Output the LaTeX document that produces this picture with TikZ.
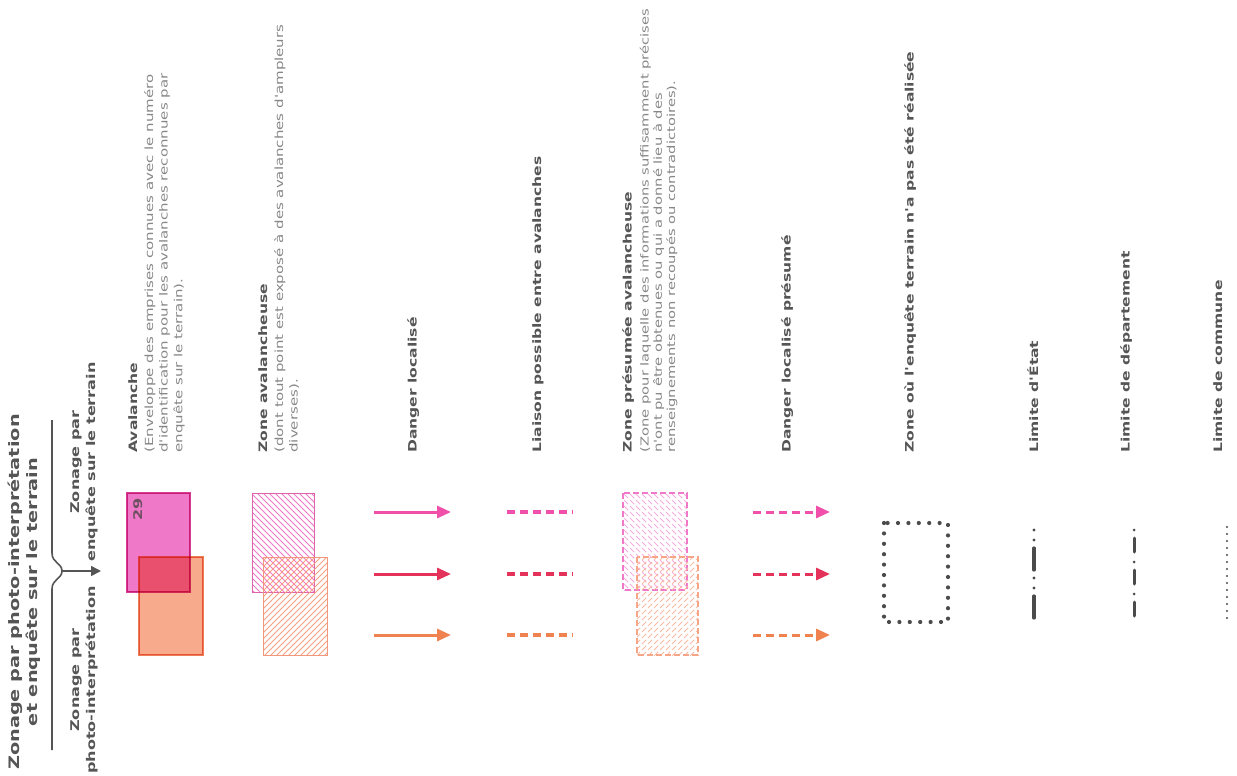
\documentclass[tikz,border=0pt]{standalone}
\usepackage{fontspec}
\newfontfamily\legfont[FakeStretch=1.34]{DejaVu Sans}
\usetikzlibrary{arrows.meta,patterns,calc}

\definecolor{headgray}{RGB}{85,85,85}
\definecolor{descgray}{RGB}{135,135,135}
\definecolor{avmag}{RGB}{240,120,200}
\definecolor{avmagline}{RGB}{215,60,150}
\definecolor{avor}{RGB}{248,170,140}
\definecolor{avorline}{RGB}{238,125,90}
\definecolor{dgpink}{RGB}{240,80,170}
\definecolor{dgred}{RGB}{228,50,90}
\definecolor{dgor}{RGB}{240,130,80}
\definecolor{limgray}{RGB}{75,75,75}

\tikzset{
  head/.style={rotate=90,anchor=north west,inner sep=0pt,text=headgray,
    font=\legfont\bfseries\fontsize{5.8}{7}\selectfont},
  desc/.style={rotate=90,anchor=north west,inner sep=0pt,align=left,text=descgray,
    font=\legfont\fontsize{5.6}{7.3}\selectfont},
  side/.style={rotate=90,anchor=north,inner sep=0pt,align=center,text=headgray,
    font=\legfont\bfseries\fontsize{6}{8}\selectfont},
  danger/.style={line width=1.5pt,-{Triangle[length=7pt,width=6pt]}},
  presume/.style={danger,dash pattern=on 4pt off 2.5pt},
  liaison/.style={line width=1.7pt,dash pattern=on 4pt off 2.5pt},
  limline/.style={limgray,line cap=round},
}

\begin{document}
\begin{tikzpicture}[x=0.5pt,y=-0.5pt]
  \useasboundingbox (0,0) rectangle (1237,776);

  % left side: kind of zoning
  \node[side,font=\legfont\bfseries\fontsize{7.2}{8.6}\selectfont] (zall) at (8,592)
    {Zonage par photo-interprétation\\et enquête sur le terrain};
  \draw[headgray,line width=0.8pt] (52,420) -- (52,553)
    .. controls (52,563) and (62,563) .. (62,571)
    .. controls (62,579) and (52,579) .. (52,589) -- (52,750);
  \coordinate (tip) at (62,571);
  \coordinate (tipend) at (101,571);
  \draw[headgray,line width=0.8pt,-{Triangle[length=5pt,width=5pt]}] (tip) -- (tipend);
  \node[side] (zenq) at (70,462) {Zonage par\\enquête sur le terrain};
  \node[side] (zphoto) at (70,680) {Zonage par\\photo-interprétation};

  % headings
  \foreach \x/\id/\txt in {128/av/Avalanche, 258/za/Zone avalancheuse,
      407/dl/Danger localisé, 532/li/Liaison possible entre avalanches,
      622/zp/Zone présumée avalancheuse, 781/dp/Danger localisé présumé,
      904/ze/Zone où l'enquête terrain n'a pas été réalisée,
      1027/le/Limite d'État, 1120/ld/Limite de département,
      1213/lc/Limite de commune}
    \node[head] (h-\id) at (\x,453) {\txt};

  \node[desc] (d-av) at ($(h-av.south west)+(6,0)$)
    {(Enveloppe des emprises connues avec le numéro\\d'identification pour les avalanches reconnues par\\enquête sur le terrain).};
  \node[desc] (d-za) at ($(h-za.south west)+(6,0)$)
    {(dont tout point est exposé à des avalanches d'ampleurs\\diverses).};
  \node[desc,font=\legfont\fontsize{5.5}{6.6}\selectfont] (d-zp) at ($(h-zp.south west)+(5,0)$)
    {(Zone pour laquelle des informations suffisamment précises\\n'ont pu être obtenues ou qui a donné lieu à des\\renseignements non recoupés ou contradictoires).};

  % avalanche
  \begin{scope}[blend mode=multiply]
    \draw[avmagline,fill=avmag,line width=0.6pt] (127,493) rectangle (190,592);
    \draw[avorline,fill=avor,line width=0.6pt] (139,557) rectangle (203,655);
  \end{scope}
  \node[rotate=90,inner sep=0pt,text=headgray!80!avmagline,
    font=\legfont\bfseries\fontsize{6}{7}\selectfont] (num) at (138,509) {29};

  % zone avalancheuse
  \draw[avmagline!80,line width=0.5pt,pattern=north west lines,pattern color=avmag]
    (252,493) rectangle (314,592);
  \draw[avorline!80,line width=0.5pt,pattern=north east lines,pattern color=avor!80!avorline]
    (263,557) rectangle (327,655);

  % zone presumee
  \draw[avmag,line width=0.6pt,dash pattern=on 3pt off 1.5pt,
    pattern=north west lines,pattern color=avmag!60] (623,493) rectangle (687,590);
  \draw[avor!90!avorline,line width=0.6pt,dash pattern=on 3pt off 1.5pt,
    pattern=north east lines,pattern color=avor!80] (637,557) rectangle (698,655);

  % arrows and links
  \foreach \y/\c in {512/dgpink,574/dgred,635/dgor}{
    \draw[danger,\c] (374,\y) -- (451,\y);
    \draw[liaison,\c] (507,\y) -- (573,\y);
    \draw[presume,\c] (753,\y) -- (830,\y);
  }

  % field survey not done
  \draw[limgray,line width=2.1pt,line cap=round,dash pattern=on 0pt off 5.2pt]
    (884,523) rectangle (948,622);

  % limits
  \draw[limline,line width=1.6pt,dash pattern=on 0pt off 5pt on 0pt off 4pt on 11pt off 4pt]
    (1034,530) -- (1034,620);
  \draw[limline,line width=1.5pt,dash pattern=on 0pt off 4pt on 7pt off 5pt]
    (1134,530) -- (1134,622);
  \draw[limline,line width=1.1pt,dash pattern=on 0pt off 3.5pt]
    (1227,527) -- (1227,623);
\end{tikzpicture}
\end{document}
